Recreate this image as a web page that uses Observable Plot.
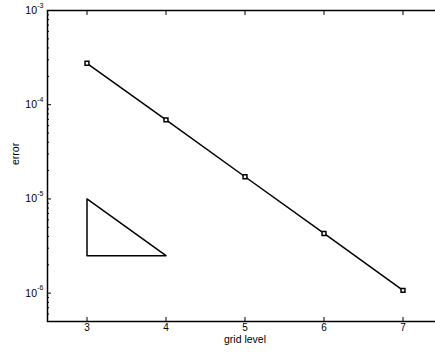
<!DOCTYPE html>
<html><head><meta charset="utf-8">
<script src="https://cdn.jsdelivr.net/npm/d3@7"></script>
<script src="https://cdn.jsdelivr.net/npm/@observablehq/plot@0.6"></script>
<style>
body{margin:0;background:#fff;overflow:hidden}
#c{width:435px;height:353px;overflow:hidden}
#c svg{max-width:none !important;width:443px;height:353px}
</style>
</head><body><div id="c"></div>
<script>
const gridLevels = [3, 4, 5, 6, 7];
const errors = [2.75e-4, 6.9e-5, 1.72e-5, 4.3e-6, 1.07e-6];
const triangleX = [3, 3, 4, 3];
const triangleY = [1e-5, 2.5e-6, 2.5e-6, 1e-5];
const xTicks = [3, 4, 5, 6, 7];
const yMajorTicks = [1e-6, 1e-5, 1e-4, 1e-3];
const yExponents = ["-6", "-5", "-4", "-3"];
const yMinorTicks = [6e-7, 7e-7, 8e-7, 9e-7,
  2e-6, 3e-6, 4e-6, 5e-6, 6e-6, 7e-6, 8e-6, 9e-6,
  2e-5, 3e-5, 4e-5, 5e-5, 6e-5, 7e-5, 8e-5, 9e-5,
  2e-4, 3e-4, 4e-4, 5e-4, 6e-4, 7e-4, 8e-4, 9e-4];

const data = gridLevels.map((g, i) => ({g, e: errors[i]}));
const tri = triangleX.map((x, i) => ({x, y: triangleY[i]}));
const font = "'Liberation Sans', Arial, Helvetica, sans-serif";

const chart = Plot.plot({
  width: 443, height: 353,
  marginLeft: 47, marginRight: 1, marginTop: 10, marginBottom: 32,
  style: {fontFamily: font, fontSize: "10.5px", background: "#fff", color: "#000"},
  x: {domain: [2.5, 7.5]},
  y: {type: "log", domain: [5e-7, 1e-3]},
  marks: [
    Plot.axisX(xTicks, {tickSize: 0, tickPadding: 2, label: null, tickFormat: d => String(d), fontSize: 10}),
    Plot.axisX(xTicks, {tickSize: -4, label: null, tickFormat: () => ""}),
    Plot.axisX(xTicks, {anchor: "top", tickSize: -4, label: null, tickFormat: () => ""}),
    Plot.axisY(yMajorTicks, {tickSize: -4, label: null, tickFormat: () => ""}),
    Plot.axisY(yMinorTicks, {tickSize: -2, label: null, tickFormat: () => ""}),
    Plot.axisY(yMajorTicks, {anchor: "right", tickSize: -4, label: null, tickFormat: () => ""}),
    Plot.text(yMajorTicks, {y: d => d, text: () => "10", frameAnchor: "left", dx: -10.5, dy: 0, textAnchor: "end", fontSize: 10.5}),
    Plot.text(yMajorTicks, {y: d => d, text: (d, i) => yExponents[i], frameAnchor: "left", dx: -4, dy: -5, textAnchor: "end", fontSize: 7}),
    Plot.text(["grid level"], {frameAnchor: "bottom", dy: 21.5, fontSize: 10.5}),
    Plot.text(["error"], {frameAnchor: "left", dx: -32, dy: -1, rotate: -90, fontSize: 10.5}),
    Plot.frame({stroke: "#000", strokeWidth: 1.5}),
    Plot.line(tri, {x: "x", y: "y", stroke: "#000", strokeWidth: 1.5}),
    Plot.line(data, {x: "g", y: "e", stroke: "#000", strokeWidth: 1.5}),
    Plot.dot(data, {x: "g", y: "e", symbol: "square", r: 2.2, stroke: "#000", fill: "#fff", strokeWidth: 1.5})
  ]
});
document.getElementById("c").appendChild(chart);
</script>
</body></html>
